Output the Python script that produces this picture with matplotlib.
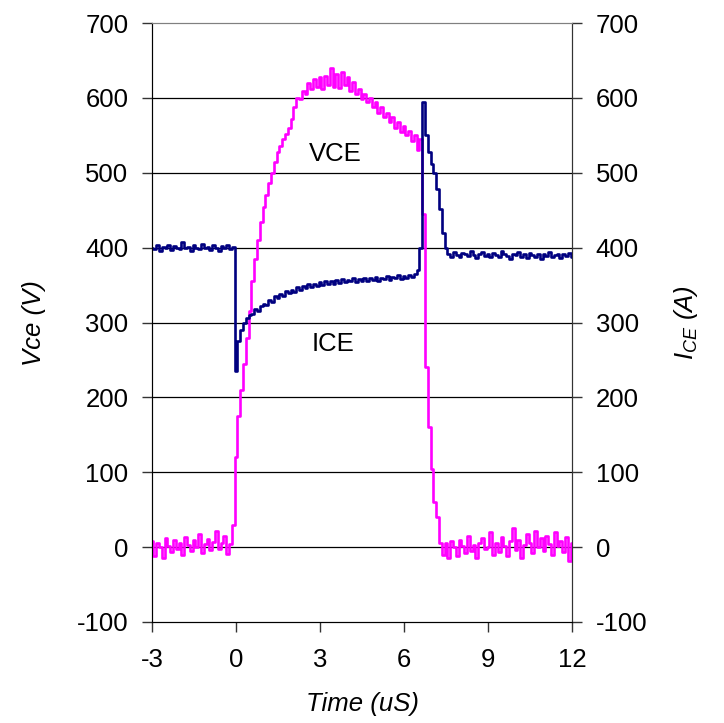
import numpy as np
import matplotlib
matplotlib.use("Agg")
import matplotlib.pyplot as plt

plt.rcParams['font.family'] = ['Liberation Sans', 'DejaVu Sans']
plt.rcParams['axes.unicode_minus'] = False
plt.rcParams['mathtext.fontset'] = 'custom'
plt.rcParams['mathtext.it'] = 'Liberation Sans:italic'
plt.rcParams['mathtext.rm'] = 'Liberation Sans'

F = 18.5

# time grid, 0.1 uS step from -3 to 12
t = np.round(np.linspace(-3.0, 12.0, 151), 2)

# collector-emitter voltage (V)
vce = [8, -12, 5, 0, -15, 12, 2, -6, 10, -3, 6, -10, 14, 3, -5, 9, 0, 18, -8, 4,
       11, -4, 7, 22, -2, 6, 15, -9, 4, 30,
       120, 175, 210, 245, 280, 315, 355, 385, 410, 435,
       455, 470, 486, 500, 515, 528, 536, 545, 552, 560,
       572, 588, 600, 598, 610, 605, 620, 612, 625, 615,
       628, 612, 630, 618, 640, 615, 632, 614, 635, 618,
       628, 610, 622, 605, 612, 598, 606, 595, 600, 588,
       594, 580, 588, 574, 580, 568, 574, 560, 568, 555,
       562, 550, 556, 542, 550, 530, 545, 445, 240, 160,
       105, 60, 40, 5,
       -10, 5, -15, 8, 0, -12, 10, 2, -8, 15, -5, 3, -14, 6, 12, -3, 0, 20, -10, 5,
       -6, 14, 2, -12, 8, 25, -4, 10, -15, 3, 18, 6, -8, 22, 0, 12, -5, 15, 4, -10,
       20, 2, 8, -6, 14, -18, 5]

# collector current (A)
ice = [400, 398, 403, 396, 401, 399, 404, 397, 402, 400, 398, 407, 399, 401, 396,
       403, 400, 398, 405, 399, 401, 397, 403, 400, 396, 402, 399, 404, 398, 401,
       235, 275, 290, 300, 306, 310, 312, 318, 316, 322,
       325, 323, 330, 328, 335, 333, 338, 336, 342, 339,
       344, 341, 347, 344, 349, 346, 351, 348, 352, 349,
       354, 350, 355, 351, 356, 352, 357, 353, 358, 354,
       357, 355, 359, 354, 358, 356, 360, 355, 359, 357,
       361, 356, 360, 358, 362, 357, 361, 359, 363, 358,
       362, 360, 364, 361, 365, 370, 400, 595, 550, 528,
       512, 500, 478, 452, 420, 400,
       392, 388, 394, 390, 387, 393, 391, 389, 395, 390,
       386, 392, 394, 389, 391, 387, 393, 390, 388, 396,
       391, 389, 385, 392, 390, 394, 388, 391, 386, 393,
       390, 388, 392, 385, 391, 389, 394, 387, 390, 392,
       386, 391, 389, 393, 388]

yticks = [-100, 0, 100, 200, 300, 400, 500, 600, 700]
xticks = [-3, 0, 3, 6, 9, 12]

fig = plt.figure(figsize=(7.24, 7.23), dpi=100)
ax = fig.add_axes([0.21, 0.1397, 0.58, 0.8283])

for yv in yticks[1:-1]:
    ax.axhline(yv, color='k', lw=0.9, zorder=1)

ax.plot(t, vce, color='#FF00FF', lw=1.9, drawstyle='steps-mid', zorder=3)
ax.plot(t, ice, color='#000080', lw=1.9, drawstyle='steps-mid', zorder=4)

ax.text(3.55, 525, 'VCE', fontsize=F, ha='center', va='center')
ax.text(3.45, 272, 'ICE', fontsize=F, ha='center', va='center')

ax.set_xlim(-3, 12)
ax.set_ylim(-100, 700)
ax.set_xticks(xticks)
ax.set_yticks(yticks)
ax.tick_params(labelsize=F, direction='out', length=7, width=1, color='#333333', pad=10)
ax.tick_params(axis='x', pad=12)
ax.spines['top'].set_color('#808080')
ax.spines['left'].set_color('#333333')
ax.spines['right'].set_color('#333333')
ax.spines['bottom'].set_color('k')

ax.set_xlabel('Time (uS)', fontsize=F, style='italic', labelpad=14)
ax.set_ylabel('Vce (V)', fontsize=F, style='italic', labelpad=22)

ax2 = ax.twinx()
ax2.set_ylim(-100, 700)
ax2.set_yticks(yticks)
ax2.tick_params(labelsize=F, direction='out', length=7, width=1, color='#333333', pad=10)
ax2.set_ylabel('$I_{CE}$ (A)', fontsize=F, style='italic', rotation=90, labelpad=18)
ax2.spines['right'].set_color('#333333')
ax2.spines['top'].set_color('#808080')

fig.savefig('out.png', dpi=100)
